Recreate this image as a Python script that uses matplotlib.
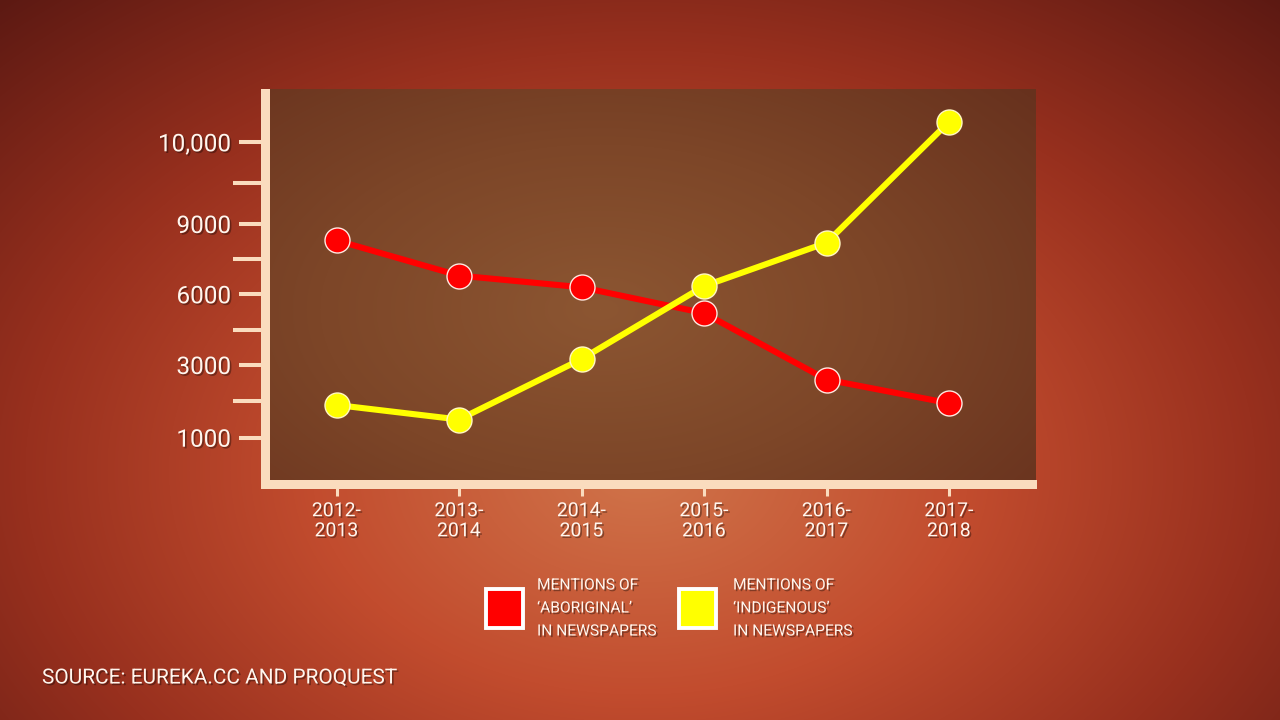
import numpy as np
import matplotlib
matplotlib.use("Agg")
import matplotlib.pyplot as plt
from matplotlib.patches import Rectangle
from matplotlib.ticker import FixedLocator, FixedFormatter
import matplotlib.patheffects as pe

# ---------------- data ----------------
periods = ["2012-\n2013", "2013-\n2014", "2014-\n2015", "2015-\n2016", "2016-\n2017", "2017-\n2018"]
aboriginal = [8300, 6800, 6300, 5200, 2600, 1950]
indigenous = [1900, 1500, 3250, 6350, 8200, 10250]
y_ticks = [1000, 3000, 6000, 9000, 10000]
y_tick_labels = ["1000", "3000", "6000", "9000", "10,000"]
y_minor_ticks = [2000, 4500, 7500, 9500]
legend_labels = [["MENTIONS OF", "\u2018ABORIGINAL\u2019", "IN NEWSPAPERS"],
                 ["MENTIONS OF", "\u2018INDIGENOUS\u2019", "IN NEWSPAPERS"]]
source_text = "SOURCE: EUREKA.CC AND PROQUEST"

# ---------------- style ----------------
RED = "#ff0000"
YELLOW = "#ffff00"
CREAM = "#fadcbe"
TXT = "#fff6ee"
FONT = "Roboto"

W, H = 1280, 720
fig = plt.figure(figsize=(W / 100, H / 100), dpi=100)


def fx(px):
    return px / W


def fy(py):
    return 1 - py / H


shadow = [pe.SimplePatchShadow(offset=(1.2, -1.2), shadow_rgbFace="black", alpha=0.35), pe.Normal()]

# ---------------- background gradient ----------------
bg = fig.add_axes([0, 0, 1, 1], zorder=-10)
bg.set_axis_off()
yy, xx = np.mgrid[0:H, 0:W]
d = np.sqrt(((xx - 640) / 820.0) ** 2 + ((yy - 470) / 560.0) ** 2)
stops = np.array([0.0, 0.4, 0.75, 1.2])
cols = np.array([[208, 116, 74], [194, 76, 46], [152, 48, 30], [84, 22, 17]]) / 255.0
img = np.dstack([np.interp(d, stops, cols[:, i]) for i in range(3)])
bg.imshow(img, extent=[0, 1, 0, 1], aspect="auto", origin="upper")
bg.set_xlim(0, 1)
bg.set_ylim(0, 1)

# ---------------- plot area ----------------
AX_L, AX_R, AX_T, AX_B = 270, 1036, 89, 480
pos = [fx(AX_L), fy(AX_B), fx(AX_R - AX_L), (AX_B - AX_T) / H]

pbg = fig.add_axes(pos, zorder=-5)
pbg.set_axis_off()
ph, pw = AX_B - AX_T, AX_R - AX_L
py_, px_ = np.mgrid[0:ph, 0:pw]
dd = np.sqrt(((px_ - 330) / 560.0) ** 2 + ((py_ - 220) / 330.0) ** 2)
st2 = np.array([0.0, 0.5, 1.0, 1.5])
c2 = np.array([[140, 86, 50], [125, 70, 40], [104, 50, 30], [88, 34, 22]]) / 255.0
img2 = np.dstack([np.interp(dd, st2, c2[:, i]) for i in range(3)])
pbg.imshow(img2, extent=[0, 1, 0, 1], aspect="auto", origin="upper")
pbg.set_xlim(0, 1)
pbg.set_ylim(0, 1)

ax = fig.add_axes(pos)
ax.patch.set_visible(False)
for s in ax.spines.values():
    s.set_visible(False)

# piecewise-linear value axis (as drawn in the original graphic)
VK = np.array(y_ticks, dtype=float)
PK = np.array([0.0, 72.7, 143.4, 213.7, 295.4])
s0 = (PK[1] - PK[0]) / (VK[1] - VK[0])
s1 = (PK[-1] - PK[-2]) / (VK[-1] - VK[-2])
VKx = np.concatenate([[VK[0] - 1e6], VK, [VK[-1] + 1e6]])
PKx = np.concatenate([[PK[0] - 1e6 * s0], PK, [PK[-1] + 1e6 * s1]])


def fwd(v):
    return np.interp(np.asarray(v, dtype=float), VKx, PKx)


def inv(p):
    return np.interp(np.asarray(p, dtype=float), PKx, VKx)


ax.set_yscale("function", functions=(fwd, inv))

x = np.arange(len(periods))
ax.plot(x, aboriginal, color=RED, lw=4.4, solid_capstyle="round", zorder=3,
        marker="o", ms=18, mfc=RED, mec="#ffe8e0", mew=1.0)
ax.plot(x, indigenous, color=YELLOW, lw=4.4, solid_capstyle="round", zorder=4,
        marker="o", ms=18, mfc=YELLOW, mec="#fff6c0", mew=1.0)

# limits mapping to the pixel frame
step = (949 - 336.5) / (len(periods) - 1)
ax.set_xlim(-(336.5 - AX_L) / step, (len(periods) - 1) + (AX_R - 949) / step)
ax.set_ylim(float(inv(437.7 - AX_B)), float(inv(437.7 - AX_T)))

ax.yaxis.set_major_locator(FixedLocator(y_ticks))
ax.yaxis.set_major_formatter(FixedFormatter(y_tick_labels))
ax.yaxis.set_minor_locator(FixedLocator(y_minor_ticks))
ax.yaxis.set_minor_formatter(FixedFormatter([""] * len(y_minor_ticks)))
ax.tick_params(axis="y", which="major", direction="out", length=22.3, width=2.9,
               color=CREAM, pad=5.8, labelsize=17.5, labelcolor=TXT)
ax.tick_params(axis="y", which="minor", direction="out", length=26.6, width=2.9,
               color=CREAM)
ax.set_xticks(x)
ax.set_xticklabels(periods)
ax.tick_params(axis="x", which="major", direction="out", length=11.5, width=2.2,
               color=CREAM, pad=4.5, labelsize=14, labelcolor=TXT)
for lab in ax.get_yticklabels():
    lab.set_fontfamily(FONT)
    lab.set_path_effects(shadow)
for lab in ax.get_xticklabels():
    lab.set_fontfamily(FONT)
    lab.set_linespacing(1.15)
    lab.set_path_effects(shadow)

# frame (left & bottom bars)
fig.add_artist(Rectangle((fx(261), fy(489)), fx(270 - 261), (489 - 89) / H,
                         transform=fig.transFigure, facecolor=CREAM, edgecolor="none", zorder=5))
fig.add_artist(Rectangle((fx(261), fy(489)), fx(1037 - 261), (489 - 480) / H,
                         transform=fig.transFigure, facecolor=CREAM, edgecolor="none", zorder=5))

# ---------------- legend ----------------
leg_boxes = [(486, 589, RED), (679, 589, YELLOW)]
leg_text_x = [537, 733]
line_y = [585, 608, 631]
for (bx, by, c), labels, tx in zip(leg_boxes, legend_labels, leg_text_x):
    fig.add_artist(Rectangle((fx(bx), fy(by + 39)), fx(37), 39 / H, transform=fig.transFigure,
                             facecolor=c, edgecolor="white", linewidth=2.8, zorder=6))
    for t, ly in zip(labels, line_y):
        fig.text(fx(tx), fy(ly), t, ha="left", va="center", fontsize=11.2,
                 color=TXT, family=FONT, path_effects=shadow)

# ---------------- source ----------------
fig.text(fx(42), fy(678), source_text, ha="left", va="center", fontsize=15,
         color=TXT, family=FONT, path_effects=shadow)

fig.savefig("out.png", dpi=100)
